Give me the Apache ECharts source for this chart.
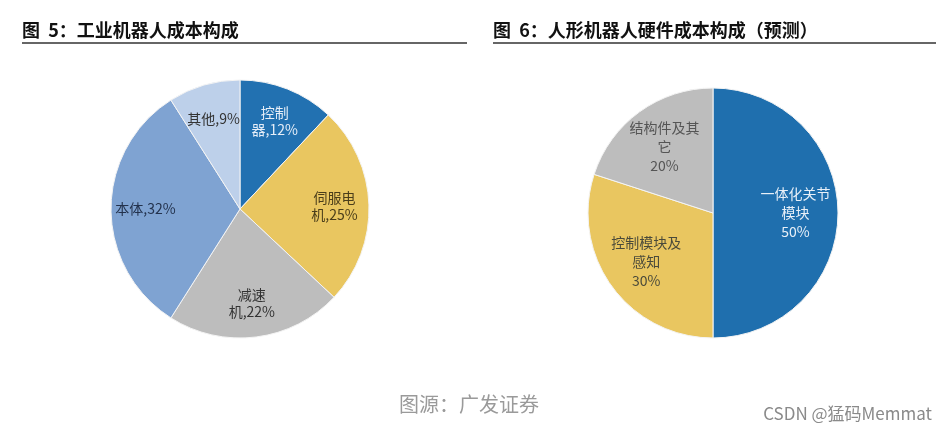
<!DOCTYPE html>
<html><head><meta charset="utf-8">
<script src="https://cdn.jsdelivr.net/npm/echarts@6/dist/echarts.min.js"></script>
<style>html,body{margin:0;padding:0;background:#fff}#c{width:946px;height:435px}</style>
</head><body><div id="c"></div>
<script>
// Figure 5: industrial robot cost structure
const leftCategories = ['控制器', '伺服电机', '减速机', '本体', '其他'];
const leftLabels = ['控制\n器', '伺服电\n机', '减速\n机', '本体', '其他'];
const leftValues = [12, 25, 22, 32, 9];
// Figure 6: humanoid robot hardware cost structure (forecast)
const rightCategories = ['一体化关节模块', '控制模块及感知', '结构件及其它'];
const rightLabels = ['一体化关节\n模块', '控制模块及\n感知', '结构件及其\n它'];
const rightValues = [50, 30, 20];

const leftColors = ['#2271b1', '#e9c660', '#bdbdbd', '#7fa3d2', '#bdd0ea'];
const leftTextColors = ['#e6eef8', '#4a3d1a', '#333333', '#23324d', '#333333'];
const rightColors = ['#1f6fae', '#e9c660', '#bdbdbd'];
const rightTextColors = ['#e8f0f8', '#4a4a3a', '#555555'];

const font = '"Noto Sans CJK SC", "Noto Sans", sans-serif';

function pieData(cats, vals, colors) {
  return cats.map((c, i) => ({ name: c, value: vals[i], itemStyle: { color: colors[i] } }));
}
function labelData(cats, vals, labels, textColors, sep) {
  return cats.map((c, i) => ({
    name: c, value: vals[i],
    itemStyle: { color: 'rgba(0,0,0,0)' },
    label: { formatter: labels[i] + sep + vals[i] + '%', color: textColors[i] }
  }));
}

const chart = echarts.init(document.getElementById('c'), null, { renderer: 'canvas' });
chart.setOption({
  animation: false,
  backgroundColor: '#fff',
  graphic: [
    { type: 'text', left: 22, top: 21, style: { text: '图  5：工业机器人成本构成', font: 'bold 18px ' + font, fill: '#111' } },
    { type: 'line', shape: { x1: 22, y1: 43, x2: 467, y2: 43 }, style: { stroke: '#333', lineWidth: 1.5 } },
    { type: 'text', left: 493, top: 21, style: { text: '图  6：人形机器人硬件成本构成（预测）', font: 'bold 18px ' + font, fill: '#111' } },
    { type: 'line', shape: { x1: 493, y1: 43, x2: 936, y2: 43 }, style: { stroke: '#333', lineWidth: 1.5 } },
    { type: 'text', left: 399, top: 394, style: { text: '图源：广发证券', font: '20px ' + font, fill: '#9a9a9a' } },
    { type: 'text', right: 14, top: 405, style: { text: 'CSDN @猛码Memmat', font: '17px ' + font, fill: '#8a8a8a' } }
  ],
  series: [
    {
      type: 'pie', center: [240, 209], radius: [0, 129], startAngle: 90, clockwise: true,
      silent: true, label: { show: false }, labelLine: { show: false },
      itemStyle: { borderColor: '#f4f4f4', borderWidth: 1 },
      data: pieData(leftCategories, leftValues, leftColors)
    },
    {
      type: 'pie', center: [240, 209], radius: [54, 129], startAngle: 90, clockwise: true,
      silent: true, labelLine: { show: false },
      label: { show: true, position: 'inside', fontSize: 14, lineHeight: 17, fontFamily: font, align: 'center' },
      data: labelData(leftCategories, leftValues, leftLabels, leftTextColors, ',')
    },
    {
      type: 'pie', center: [713, 213], radius: [0, 125], startAngle: 90, clockwise: true,
      silent: true, label: { show: false }, labelLine: { show: false },
      itemStyle: { borderColor: '#f4f4f4', borderWidth: 1 },
      data: pieData(rightCategories, rightValues, rightColors)
    },
    {
      type: 'pie', center: [713, 213], radius: [34, 125], startAngle: 90, clockwise: true,
      silent: true, labelLine: { show: false },
      label: { show: true, position: 'inside', fontSize: 14, lineHeight: 19, fontFamily: font, align: 'center' },
      data: labelData(rightCategories, rightValues, rightLabels, rightTextColors, '\n')
    }
  ]
});
</script>
</body></html>
